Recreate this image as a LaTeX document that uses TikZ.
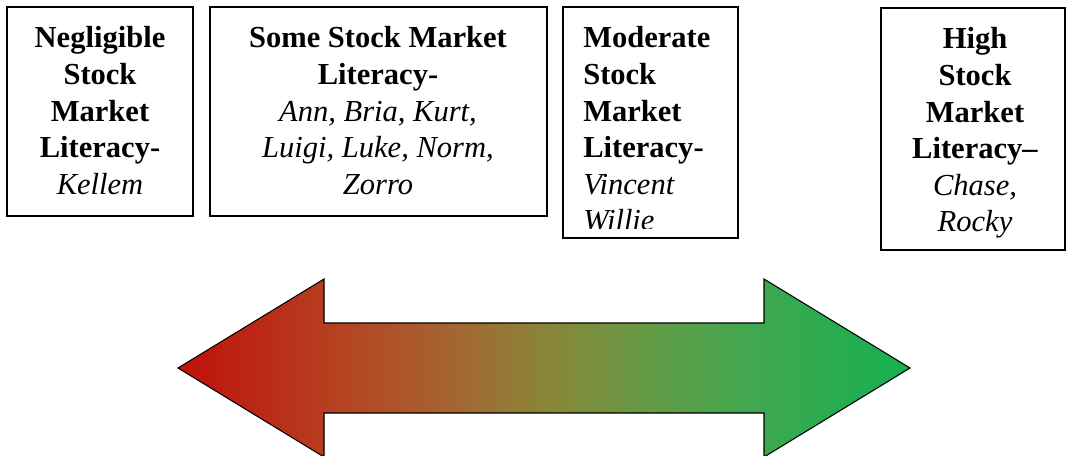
\documentclass[tikz,border=0pt]{standalone}
\usepackage{fontspec}
\setmainfont{Liberation Serif}
% colour stops of the red-to-green scale
\definecolor{gradA}{RGB}{192,16,10}
\definecolor{gradB}{RGB}{180,70,35}
\definecolor{gradC}{RGB}{166,100,50}
\definecolor{gradD}{RGB}{136,135,56}
\definecolor{gradE}{RGB}{100,155,70}
\definecolor{gradF}{RGB}{65,168,80}
\definecolor{gradG}{RGB}{20,176,80}
\pgfdeclarehorizontalshading{literacyscale}{100bp}{
  color(0bp)=(gradA); color(25bp)=(gradA); color(36.75bp)=(gradB);
  color(43.58bp)=(gradC); color(50.41bp)=(gradD); color(57.24bp)=(gradE);
  color(64.07bp)=(gradF); color(75bp)=(gradG); color(100bp)=(gradG)}
\begin{document}
\begin{tikzpicture}[x=0.75pt,y=-0.75pt,
  box/.style={draw=black,line width=1.5pt},
  txt/.style={inner sep=0pt,anchor=north,align=center,
    font=\fontsize{22.9pt}{27.4pt}\selectfont},
  scalearrow/.style={draw=black,line width=0.8pt,line join=miter,
    shading=literacyscale},
]
\useasboundingbox (0,0) rectangle (1066,456);

% frames of the four literacy groups
\draw[box] (7,7) rectangle (193,216);
\draw[box] (210,7) rectangle (547,216);
\draw[box] (563,7) rectangle (738,238);
\draw[box] (881,8) rectangle (1065,250);

% group labels
\node[txt] (neg) at (100,26.5)
  {\textbf{Negligible}\\\textbf{Stock}\\\textbf{Market}\\\textbf{Literacy-}\\\textit{Kellem}};
\node[txt] (some) at (378,26.5)
  {\textbf{Some Stock Market}\\\textbf{Literacy-}\\\textit{Ann, Bria, Kurt,}\\\textit{Luigi, Luke, Norm,}\\\textit{Zorro}};
\begin{scope}
  \clip (563,7) rectangle (738,228);
  \node[txt,anchor=north west,align=left] (mod) at (583,26.5)
    {\textbf{Moderate}\\\textbf{Stock}\\\textbf{Market}\\\textbf{Literacy-}\\\textit{Vincent}\\\textit{Willie}};
\end{scope}
\node[txt] (high) at (975,27.5)
  {\textbf{High}\\\textbf{Stock}\\\textbf{Market}\\\textbf{Literacy--}\\\textit{Chase,}\\\textit{Rocky}};

% double-headed scale arrow, red to green
\draw[scalearrow] (178,368) -- (324,279) -- (324,323) -- (764,323) -- (764,279)
  -- (910,368) -- (764,457) -- (764,413) -- (324,413) -- (324,457) -- cycle;
\end{tikzpicture}
\end{document}
